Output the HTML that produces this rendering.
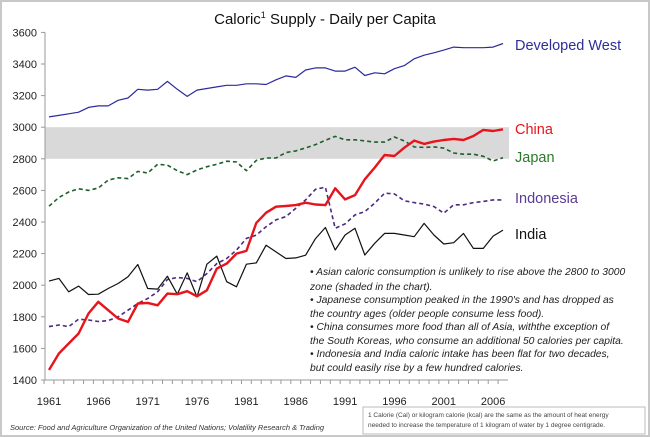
<!DOCTYPE html>
<html><head><meta charset="utf-8">
<style>
html,body{margin:0;padding:0;background:#fff;}
body{width:650px;height:437px;overflow:hidden;font-family:"Liberation Sans",sans-serif;}
svg{display:block;}
</style></head>
<body>
<svg id="chart" width="650" height="437" viewBox="0 0 650 437">
<rect x="1" y="1" width="648" height="435" fill="#fff" stroke="#c8c8c8" stroke-width="2"/>
<text x="325" y="24" text-anchor="middle" font-size="15" fill="#111">Caloric<tspan font-size="9" dy="-6">1</tspan><tspan dy="6"> Supply - Daily per Capita</tspan></text>
<g id="plot"></g>
<g font-size="10.3" font-style="italic" fill="#222">
<text x="310" y="275">•  Asian caloric consumption is unlikely to rise above the 2800 to 3000</text>
<text x="310" y="290">zone (shaded in the chart).</text>
<text x="310" y="303">•  Japanese consumption peaked in the 1990's and has dropped as</text>
<text x="310" y="317">the country ages (older people consume less food).</text>
<text x="310" y="330">•  China  consumes more food than all of Asia, withthe exception of</text>
<text x="310" y="344">the South Koreas, who consume an additional 50 calories per capita.</text>
<text x="310" y="357">•  Indonesia and India caloric intake has been flat for two decades,</text>
<text x="310" y="371">but could easily rise by a few hundred calories.</text>
</g>
<text x="10" y="430" font-size="7.5" font-style="italic" fill="#333">Source: Food and Agriculture Organization of the United Nations;  Volatility Research &amp; Trading</text>
<rect x="363" y="407" width="282" height="27" fill="#fff" stroke="#bbb"/>
<text x="368" y="417" font-size="6.5" fill="#444">1 Calorie (Cal) or kilogram calorie (kcal) are the same as the amount of heat energy</text>
<text x="368" y="427" font-size="6.5" fill="#444">needed to increase the temperature of 1 kilogram of water by 1 degree centigrade.</text>
</svg>
<script>
const years = [];
for (let y = 1961; y <= 2007; y++) years.push(y);
const yTicks = [1400,1600,1800,2000,2200,2400,2600,2800,3000,3200,3400,3600];
const xLabels = [1961,1966,1971,1976,1981,1986,1991,1996,2001,2006];
const shadedBand = [2800, 3000];
const developedWest = [3065,3075,3085,3095,3125,3135,3135,3170,3185,3240,3235,3240,3290,3240,3195,3235,3245,3255,3265,3265,3275,3275,3270,3300,3325,3315,3362,3375,3375,3355,3355,3380,3327,3344,3338,3370,3390,3433,3456,3471,3488,3507,3503,3503,3503,3507,3530];
const japan = [2500,2555,2590,2610,2600,2615,2665,2680,2675,2720,2710,2765,2760,2725,2700,2730,2750,2765,2785,2780,2725,2790,2805,2805,2840,2850,2869,2890,2917,2942,2920,2920,2913,2906,2906,2938,2913,2875,2872,2875,2868,2837,2829,2829,2816,2786,2807];
const china = [1463,1568,1631,1694,1821,1895,1842,1789,1768,1884,1888,1873,1947,1943,1962,1930,1968,2105,2137,2200,2217,2394,2459,2497,2501,2507,2522,2511,2507,2613,2543,2570,2670,2744,2824,2818,2870,2915,2894,2909,2919,2926,2919,2944,2983,2976,2987];
const indonesia = [1738,1748,1738,1785,1780,1770,1776,1800,1842,1884,1916,1958,2036,2049,2043,2022,2074,2137,2169,2222,2296,2317,2370,2413,2434,2487,2540,2607,2620,2360,2388,2445,2466,2519,2582,2578,2534,2523,2513,2498,2456,2509,2509,2523,2530,2540,2540];
const india = [2026,2043,1958,1994,1941,1943,1979,2011,2053,2131,1979,1975,2057,1943,2078,1926,2133,2184,2022,1990,2133,2141,2253,2211,2169,2173,2190,2295,2365,2223,2318,2360,2191,2265,2328,2328,2318,2307,2391,2318,2261,2269,2328,2233,2233,2311,2349];

const NS = "http://www.w3.org/2000/svg";
const plot = document.getElementById('plot');
const X0 = 49, XS = 9.87, Y0 = 380, YS = 31.6/200;
const xPos = yr => X0 + (yr - 1961) * XS;
const yPos = v => Y0 - (v - 1400) * YS;
function mk(tag, attrs) { const e = document.createElementNS(NS, tag); for (const k in attrs) e.setAttribute(k, attrs[k]); plot.appendChild(e); return e; }

const band = mk('rect', {x: 45, y: yPos(shadedBand[1]), width: xPos(2007)+6-45, height: yPos(shadedBand[0]) - yPos(shadedBand[1]), fill: '#d9d9d9'});



const ax = mk('line', {x1: 45, y1: yPos(3600), x2: 45, y2: Y0, stroke: '#999'});


const bx = mk('line', {x1: 45, y1: Y0, x2: xPos(2007)+5, y2: Y0, stroke: '#999'});



yTicks.forEach(v => {
  const t = mk('line', {x1: 41, y1: yPos(v), x2: 45, y2: yPos(v), stroke: '#999'});
  
  
  const l = mk('text', {x: 37, y: yPos(v) + 4, 'text-anchor': 'end', 'font-size': 11, fill: '#222'});
  l.textContent = v;
  
  
});
years.forEach(yr => {
  const t = mk('line', {x1: xPos(yr) - XS/2, y1: Y0, x2: xPos(yr) - XS/2, y2: Y0 + 4, stroke: '#999'});
  
  
});
xLabels.forEach(yr => {
  const l = mk('text', {x: xPos(yr), y: 405, 'text-anchor': 'middle', 'font-size': 11, fill: '#222'});
  l.textContent = yr;
  
  
});

const series = [
  {name: 'developed-west', data: developedWest, color: '#2b2b9e', w: 1.2, dash: null, label: 'Developed West', ly: 50},
  {name: 'japan', data: japan, color: '#1f5f2a', w: 1.6, dash: '4,3', label: 'Japan', ly: 162},
  {name: 'indonesia', data: indonesia, color: '#4b2a80', w: 1.6, dash: '4,3', label: 'Indonesia', ly: 203},
  {name: 'india', data: india, color: '#111', w: 1.2, dash: null, label: 'India', ly: 239},
  {name: 'china', data: china, color: '#e8141c', w: 2.4, dash: null, label: 'China', ly: 134},
];
const labelColors = {'developed-west': '#2e2e9a', japan: '#2a7a2a', indonesia: '#5a3a95', india: '#111', china: '#e8141c'};
series.forEach(s => {
  const d = s.data.map((v, i) => (i ? 'L' : 'M') + xPos(years[i]).toFixed(1) + ',' + yPos(v).toFixed(1)).join(' ');
  const attrs = {d: d, fill: 'none', stroke: s.color, 'stroke-width': s.w, 'stroke-linejoin': 'round'};
  if (s.dash) attrs['stroke-dasharray'] = s.dash;
  const p = mk('path', attrs);
  
  
  const t = mk('text', {x: 515, y: s.ly, 'font-size': 14.5, fill: labelColors[s.name]});
  t.textContent = s.label;
  
  
});
</script>
</body></html>
